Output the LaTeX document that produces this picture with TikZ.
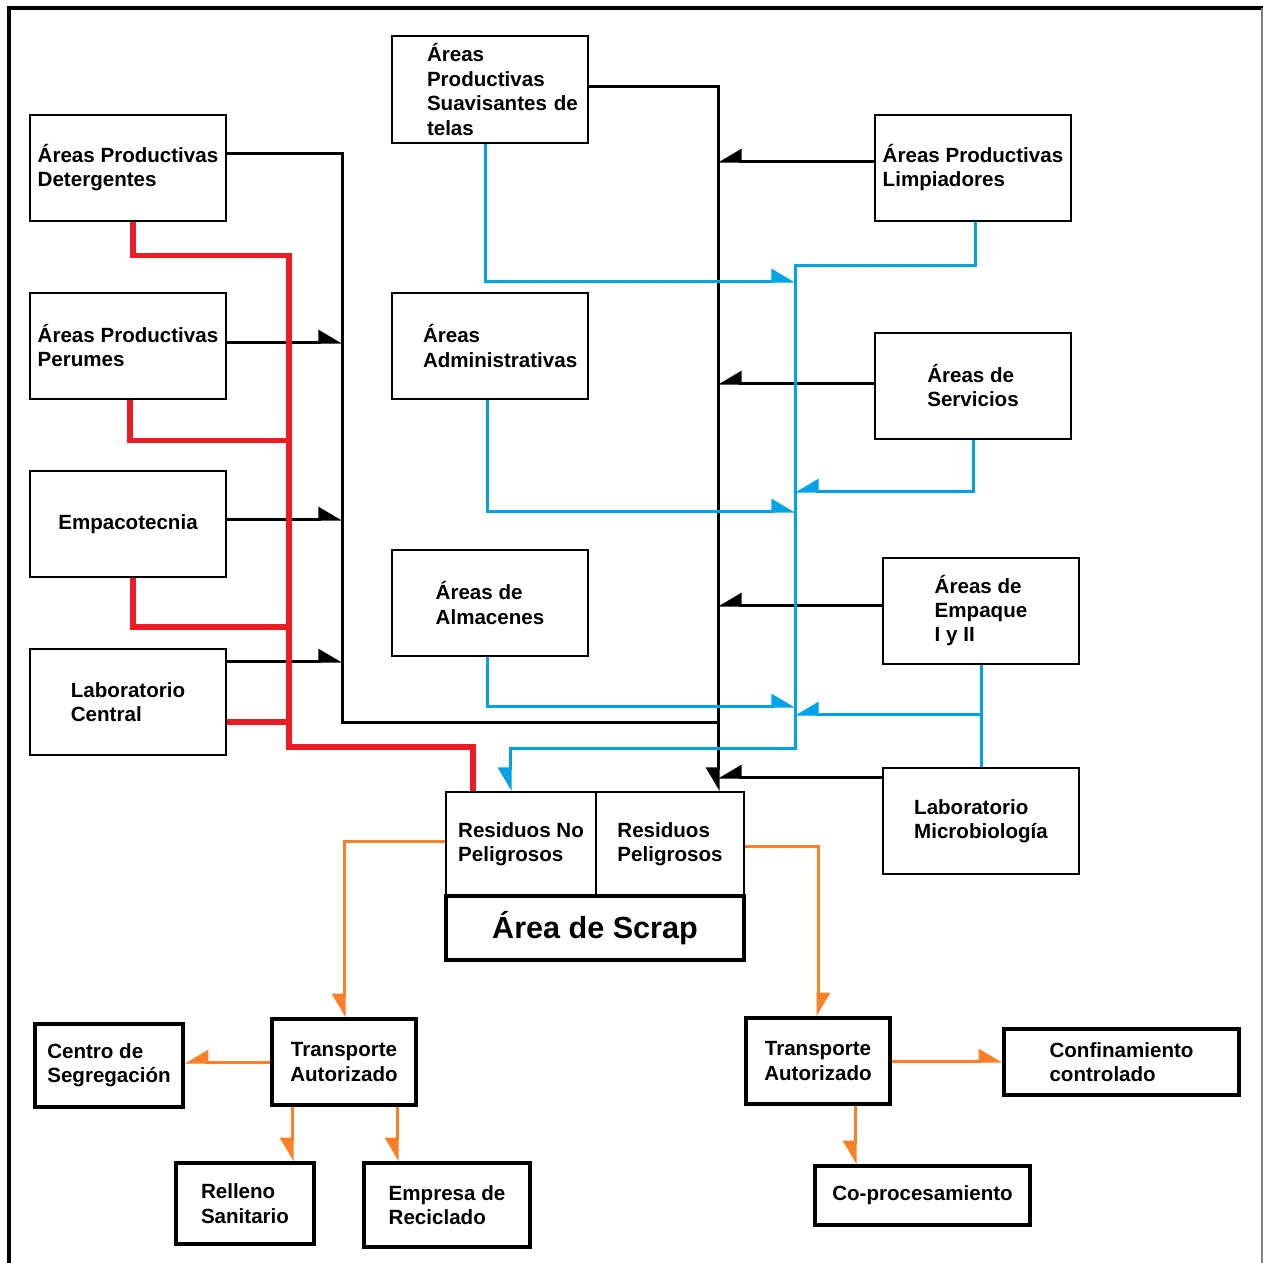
\documentclass[tikz,border=0pt]{standalone}
\usepackage{fontspec}
\setmainfont{Liberation Sans}
\usetikzlibrary{arrows.meta}

\definecolor{redline}{HTML}{ED1C24}
\definecolor{blueline}{HTML}{00A2E8}
\definecolor{orangeline}{HTML}{FF7F27}

\begin{document}
\begin{tikzpicture}[x=0.2mm, y=-0.2mm, font=\fontsize{11.7}{13.9}\selectfont\bfseries,
  every node/.style={align=left, inner sep=0pt},
  areabox/.style={draw, line width=0.4mm, minimum width=39.2mm, minimum height=21.2mm},
  destbox/.style={draw, line width=0.7mm},
  kline/.style={line width=0.6mm},
  rline/.style={redline, line width=1.1mm},
  bline/.style={blueline, line width=0.6mm},
  oline/.style={orangeline, line width=0.6mm},
  halfL/.style={-{Triangle[left, length=4.2mm, width=4.8mm]}},
  halfR/.style={-{Triangle[right, length=4.2mm, width=4.8mm]}}]
  % frame, in pixel units of the reference
  \useasboundingbox (0,0) rectangle (1263,1263);
  \draw[line width=0.8mm] (9,1263) -- (9,8) -- (1263,8);
  \draw[gray, line width=0.3mm] (1262,8) -- (1262,1263);

  % generating areas
  \node[areabox] (det) at (128,167.5) {Áreas Productivas\\Detergentes};
  \node[areabox] (per) at (128,345.5) {Áreas Productivas\\Perumes};
  \node[areabox] (empc) at (128,524) {Empacotecnia};
  \node[areabox] (labc) at (128,702) {Laboratorio\\Central};
  \node[areabox, inner xsep=7mm, text width=25.2mm] (suav) at (490,89.5) {Áreas\\Productivas\\Suavisantes~de\\telas};
  \node[areabox, inner xsep=6.2mm, text width=26.8mm] (adm) at (490,346) {Áreas\\Administrativas};
  \node[areabox] (alm) at (490,603) {Áreas de\\Almacenes};
  \node[areabox] (limp) at (973,167.5) {Áreas Productivas\\Limpiadores};
  \node[areabox] (serv) at (973,385.5) {Áreas de\\Servicios};
  \node[areabox] (empq) at (981,610.5) {Áreas de\\Empaque\\I y II};
  \node[areabox] (labm) at (981,821) {Laboratorio\\Microbiología};

  % scrap area
  \node[draw, line width=0.4mm, minimum width=30mm, minimum height=20.8mm] (rnp) at (521,844) {Residuos No\\Peligrosos};
  \node[draw, line width=0.4mm, minimum width=29.6mm, minimum height=20.8mm] (rp) at (670,844) {Residuos\\Peligrosos};
  \node[destbox, minimum width=59.6mm, minimum height=12.8mm, font=\fontsize{17.4}{20}\selectfont\bfseries] (scrap) at (595,928) {Área de Scrap};

  % destinations
  \node[destbox, minimum width=29.6mm, minimum height=16.6mm] (centro) at (109,1065.5) {Centro de\\Segregación};
  \node[destbox, minimum width=28.8mm, minimum height=17.2mm, align=center] (ta1) at (344,1062) {Transporte\\Autorizado};
  \node[destbox, minimum width=27.6mm, minimum height=16.2mm] (relleno) at (245,1203.5) {Relleno\\Sanitario};
  \node[destbox, minimum width=33.2mm, minimum height=16.8mm] (empresa) at (447,1205) {Empresa de\\Reciclado};
  \node[destbox, minimum width=28.8mm, minimum height=17.2mm, align=center] (ta2) at (818,1061) {Transporte\\Autorizado};
  \node[destbox, minimum width=47mm, minimum height=13.2mm] (conf) at (1121.5,1062) {Confinamiento\\controlado};
  \node[destbox, minimum width=43mm, minimum height=11.8mm] (coproc) at (922.5,1195.5) {Co-procesamiento};

  % bus corners and junctions
  \coordinate (kL) at (342,722);
  \coordinate (kR) at (718,722);
  \coordinate (rbus) at (289,747);
  \coordinate (bbus) at (795,748);
  \coordinate (bj1) at (795,281);
  \coordinate (bj2) at (795,491);
  \coordinate (bj3) at (795,511);
  \coordinate (bj4) at (795,706);
  \coordinate (bj5) at (795,714);

  % black lines
  \draw[kline] ([yshift=2.9mm]det.east) -| (kL) -- (kR);
  \draw[kline, halfL] ([yshift=0.7mm]per.east) -- ([yshift=0.7mm]per.east -| kL);
  \draw[kline, halfL] ([yshift=1mm]empc.east) -- ([yshift=1mm]empc.east -| kL);
  \draw[kline, halfL] ([yshift=8.2mm]labc.east) -- ([yshift=8.2mm]labc.east -| kL);
  \draw[kline, halfR] ([yshift=0.7mm]suav.east) -| (kR |- rp.north);
  \draw[kline, halfR] ([yshift=1.3mm]limp.west) -- ([yshift=1.3mm]limp.west -| kR);
  \draw[kline, halfR] ([yshift=0.5mm]serv.west) -- ([yshift=0.5mm]serv.west -| kR);
  \draw[kline, halfR] ([yshift=1.1mm]empq.west) -- ([yshift=1.1mm]empq.west -| kR);
  \draw[kline, halfR] ([yshift=8.8mm]labm.west) -- ([yshift=8.8mm]labm.west -| kR);

  % blue lines
  \draw[bline, halfR] ([xshift=0.4mm]limp.south) -- ++(0,44) -| (bbus) -| ([xshift=-2.2mm]rnp.north);
  \draw[bline, halfL] ([xshift=-1mm]suav.south) |- (bj1);
  \draw[bline, halfR] (serv.south) |- (bj2);
  \draw[bline, halfL] ([xshift=-0.6mm]adm.south) |- (bj3);
  \draw[bline, halfL] ([xshift=-0.6mm]alm.south) |- (bj4);
  \draw[bline] (empq.south) -- (labm.north);
  \draw[bline, halfR] (empq.south |- bj5) -- (bj5);

  % red lines
  \draw[rline] ([xshift=1mm]det.south) -- ++(0,34) -| (rbus) -| ([xshift=-9.6mm]rnp.north);
  \draw[rline] ([xshift=0.4mm]per.south) -- ++(0,41) -| (rbus);
  \draw[rline] ([xshift=1mm]empc.south) -- ++(0,49) -| (rbus);
  \draw[rline] ([yshift=-4mm]labc.east) -| (rbus);

  % orange lines
  \draw[oline, halfR] ([yshift=0.6mm]rnp.west) -| (ta1.north);
  \draw[oline, halfL] ([yshift=-0.4mm]rp.east) -| (ta2.north);
  \draw[oline, halfR] (ta1.west) -- (ta1.west -| centro.east);
  \draw[oline, halfR] ([xshift=-10.4mm]ta1.south) -- ([xshift=-10.4mm]ta1.south |- relleno.north);
  \draw[oline, halfR] ([xshift=10.6mm]ta1.south) -- ([xshift=10.6mm]ta1.south |- empresa.north);
  \draw[oline, halfL] (ta2.east) -- (ta2.east -| conf.west);
  \draw[oline, halfR] ([xshift=7.4mm]ta2.south) -- ([xshift=7.4mm]ta2.south |- coproc.north);
\end{tikzpicture}
\end{document}
